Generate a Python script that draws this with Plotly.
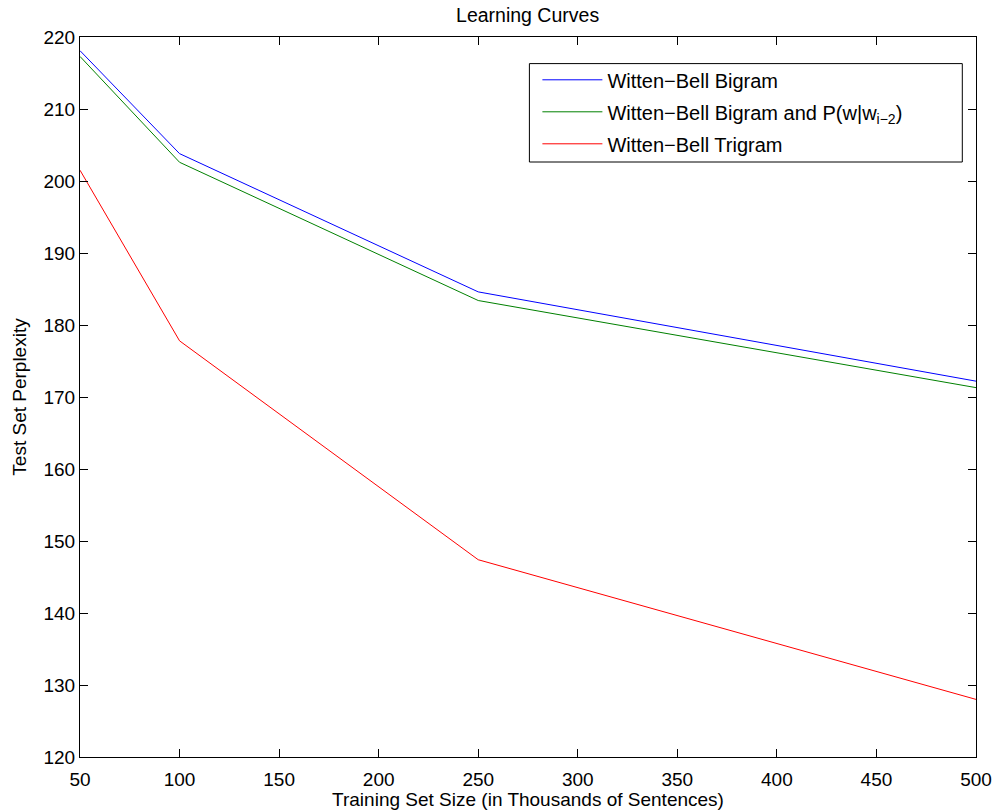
import plotly.graph_objects as go

x_sizes = [50, 100, 250, 500]
bigram = [218.1, 203.8, 184.6, 172.2]
bigram_skip = [217.3, 202.6, 183.4, 171.3]
trigram = [201.5, 177.8, 147.4, 128.0]

names = ["Witten\u2212Bell Bigram",
         "Witten\u2212Bell Bigram and P(w|w<sub>i\u22122</sub>)",
         "Witten\u2212Bell Trigram"]
colors = ["rgb(0,0,255)", "rgb(0,128,0)", "rgb(255,0,0)"]
series = [bigram, bigram_skip, trigram]

FONT = "Liberation Sans, Arial, Helvetica, sans-serif"

fig = go.Figure()
for i, (nm, col, ys) in enumerate(zip(names, colors, series)):
    fig.add_trace(go.Scatter(x=x_sizes, y=ys, mode="lines", name=nm,
                             line=dict(color=col, width=1),
                             legendgroup=str(i)))

W, H = 995, 810
L, R, T, B = 79.5, 19.3, 36.7, 53.3
pw = W - L - R
ph = H - T - B

def px_x(p):
    return (p - L) / pw

def px_y(p):
    return (H - B - p) / ph

axis_common = dict(showgrid=False, zeroline=False, showline=True, linecolor="black",
                   linewidth=1, mirror="ticks", ticks="inside", ticklen=8,
                   tickcolor="black", automargin=False,
                   tickfont=dict(size=19, color="black", family=FONT))

fig.update_layout(
    width=W, height=H,
    margin=dict(l=L, r=R, t=T, b=B, pad=0, autoexpand=False),
    paper_bgcolor="white", plot_bgcolor="white",
    font=dict(family=FONT, size=19, color="black"),
    title=dict(text="Learning Curves", x=(L + pw / 2) / W, xanchor="center",
               y=1 - 15 / H, yanchor="middle", yref="container",
               font=dict(size=19.5, color="black", family=FONT)),
    xaxis=dict(range=[50, 500], tickvals=[50, 100, 150, 200, 250, 300, 350, 400, 450, 500],
               title=dict(text="Training Set Size (in Thousands of Sentences)",
                          font=dict(size=19), standoff=8),
               ticklabelstandoff=5,
               **axis_common),
    yaxis=dict(range=[120, 220], tickvals=list(range(120, 221, 10)),
               title=dict(text="Test Set Perplexity", font=dict(size=19), standoff=11),
               **axis_common),
    legend=dict(x=px_x(537), y=px_y(60), xanchor="left", yanchor="top",
                borderwidth=0, bgcolor="rgba(0,0,0,0)",
                font=dict(size=20, color="black", family=FONT),
                itemwidth=60,
                traceorder="grouped", tracegroupgap=3),
    shapes=[dict(type="rect", xref="paper", yref="paper",
                 x0=px_x(529), x1=px_x(962), y0=px_y(63.3), y1=px_y(161.7),
                 line=dict(color="black", width=1), fillcolor="white", layer="above")],
    showlegend=True,
)

fig.write_html("out.html")
